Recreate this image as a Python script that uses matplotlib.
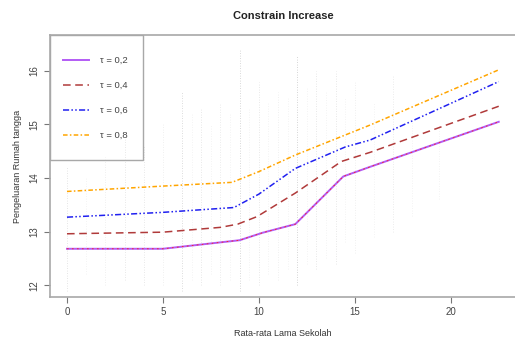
import matplotlib
matplotlib.use("Agg")
import matplotlib.pyplot as plt
import matplotlib.patches as patches

plt.rcParams['font.family'] = ['Liberation Sans', 'DejaVu Sans']

# quantile curves (x = rata-rata lama sekolah, y = log pengeluaran)
x_02 = [0, 5, 8.0, 9.0, 10.2, 11.9, 14.4, 15.8, 22.5]
y_02 = [12.68, 12.68, 12.80, 12.84, 12.98, 13.14, 14.03, 14.21, 15.05]
x_04 = [0, 5, 8.0, 8.9, 9.9, 11.9, 14.3, 15.8, 22.5]
y_04 = [12.96, 12.99, 13.08, 13.14, 13.28, 13.72, 14.31, 14.48, 15.34]
x_06 = [0, 5, 8.7, 10.0, 11.9, 14.5, 15.8, 22.5]
y_06 = [13.27, 13.36, 13.45, 13.70, 14.18, 14.58, 14.71, 15.80]
x_08 = [0, 5, 8.6, 10.0, 11.9, 15.8, 22.5]
y_08 = [13.75, 13.85, 13.92, 14.12, 14.43, 14.99, 16.02]

labels = ['τ = 0,2', 'τ = 0,4', 'τ = 0,6', 'τ = 0,8']

# observation clouds (x position, lowest and highest y seen)
obs_x = [0, 1, 2, 3, 4, 5, 6, 6.5, 7, 7.5, 8, 8.5, 9, 9.5, 10, 10.5, 11, 11.5,
         12, 12.5, 13, 13.5, 14, 14.5, 15, 16, 17, 18, 19.4]
obs_lo = [11.9, 12.2, 12.0, 12.1, 12.0, 12.0, 11.9, 12.1, 12.0, 12.2, 12.0, 12.1,
          11.9, 12.1, 12.0, 12.2, 12.1, 12.3, 12.0, 12.4, 12.3, 12.5, 12.4, 12.8,
          12.6, 12.9, 13.0, 13.3, 13.6]
obs_hi = [14.2, 14.0, 14.4, 14.8, 14.6, 15.0, 15.6, 15.2, 15.3, 15.0, 15.4, 15.2,
          16.4, 15.3, 15.8, 15.4, 15.6, 15.5, 16.3, 15.7, 16.0, 15.6, 16.0, 15.5,
          15.8, 15.4, 15.9, 15.1, 15.0]
obs_alpha = [0.35, 0.15, 0.2, 0.3, 0.3, 0.2, 0.45, 0.15, 0.3, 0.15, 0.25, 0.15,
             0.5, 0.15, 0.3, 0.15, 0.2, 0.15, 0.55, 0.15, 0.3, 0.15, 0.3, 0.15,
             0.2, 0.15, 0.25, 0.15, 0.15]

fig = plt.figure(figsize=(5.15, 3.42), dpi=100)
ax = fig.add_axes([50 / 515, 45 / 342, 466 / 515, 262 / 342])

for xv, lo, hi, a in zip(obs_x, obs_lo, obs_hi, obs_alpha):
    ax.plot([xv, xv], [lo, hi], color='#999999', lw=0.6, alpha=a,
            linestyle=(0, (1, 2)), zorder=1)

styles = [
    dict(color='#b35cf5', lw=1.4, linestyle='-'),
    dict(color='#b03a3a', lw=1.1, linestyle=(0, (5, 3))),
    dict(color='#2020f0', lw=1.1, linestyle=(0, (4, 1.5, 1, 1.5, 1, 1.5))),
    dict(color='#ffa500', lw=1.1, linestyle=(0, (3, 1.5, 1, 1.5))),
]
series = [(x_02, y_02), (x_04, y_04), (x_06, y_06), (x_08, y_08)]
for (xs, ys), st in zip(series, styles):
    ax.plot(xs, ys, zorder=3, **st)
# red overlay on the lowest quantile
ax.plot(x_02, y_02, color='#ff2020', lw=0.6, linestyle=(0, (2, 4)), zorder=4)

ax.set_xlim(-0.885, 23.4)
ax.set_ylim(11.78, 16.67)
ax.set_xticks([0, 5, 10, 15, 20])
ax.set_yticks([12, 13, 14, 15, 16])
ax.spines['right'].set_visible(False)
for s in ['left', 'bottom', 'top']:
    ax.spines[s].set_color('#a8a8a8')
    ax.spines[s].set_linewidth(1.2)
ax.tick_params(colors='#777777', labelcolor='#444444', labelsize=7,
               length=4, width=0.8)
for lab in ax.get_yticklabels():
    lab.set_rotation(90)
    lab.set_va('center')

# legend box
ax.add_patch(patches.Rectangle((0, 1 - 0.477), 0.2, 0.477, transform=ax.transAxes,
                               fill=False, edgecolor='#a8a8a8', lw=1.0, zorder=5))
leg_y = [0.905, 0.809, 0.714, 0.618]
for yy, st, lab in zip(leg_y, styles, labels):
    ax.plot([0.028, 0.084], [yy, yy], transform=ax.transAxes, zorder=6, **st)
    ax.text(0.107, yy, lab, transform=ax.transAxes, fontsize=6.8,
            color='#444444', va='center', ha='left')

fig.text(283 / 515, 1 - 16 / 342, 'Constrain Increase', ha='center', va='center',
         fontsize=8, fontweight='bold', color='#222222')
fig.text(283 / 515, 1 - 333 / 342, 'Rata-rata Lama Sekolah', ha='center',
         va='center', fontsize=6.5, color='#333333')
fig.text(18 / 515, 1 - 166 / 342, 'Pengeluaran Rumah tangga', ha='center',
         va='center', rotation=90, fontsize=6.5, color='#333333')

fig.savefig('out.png', dpi=100)
